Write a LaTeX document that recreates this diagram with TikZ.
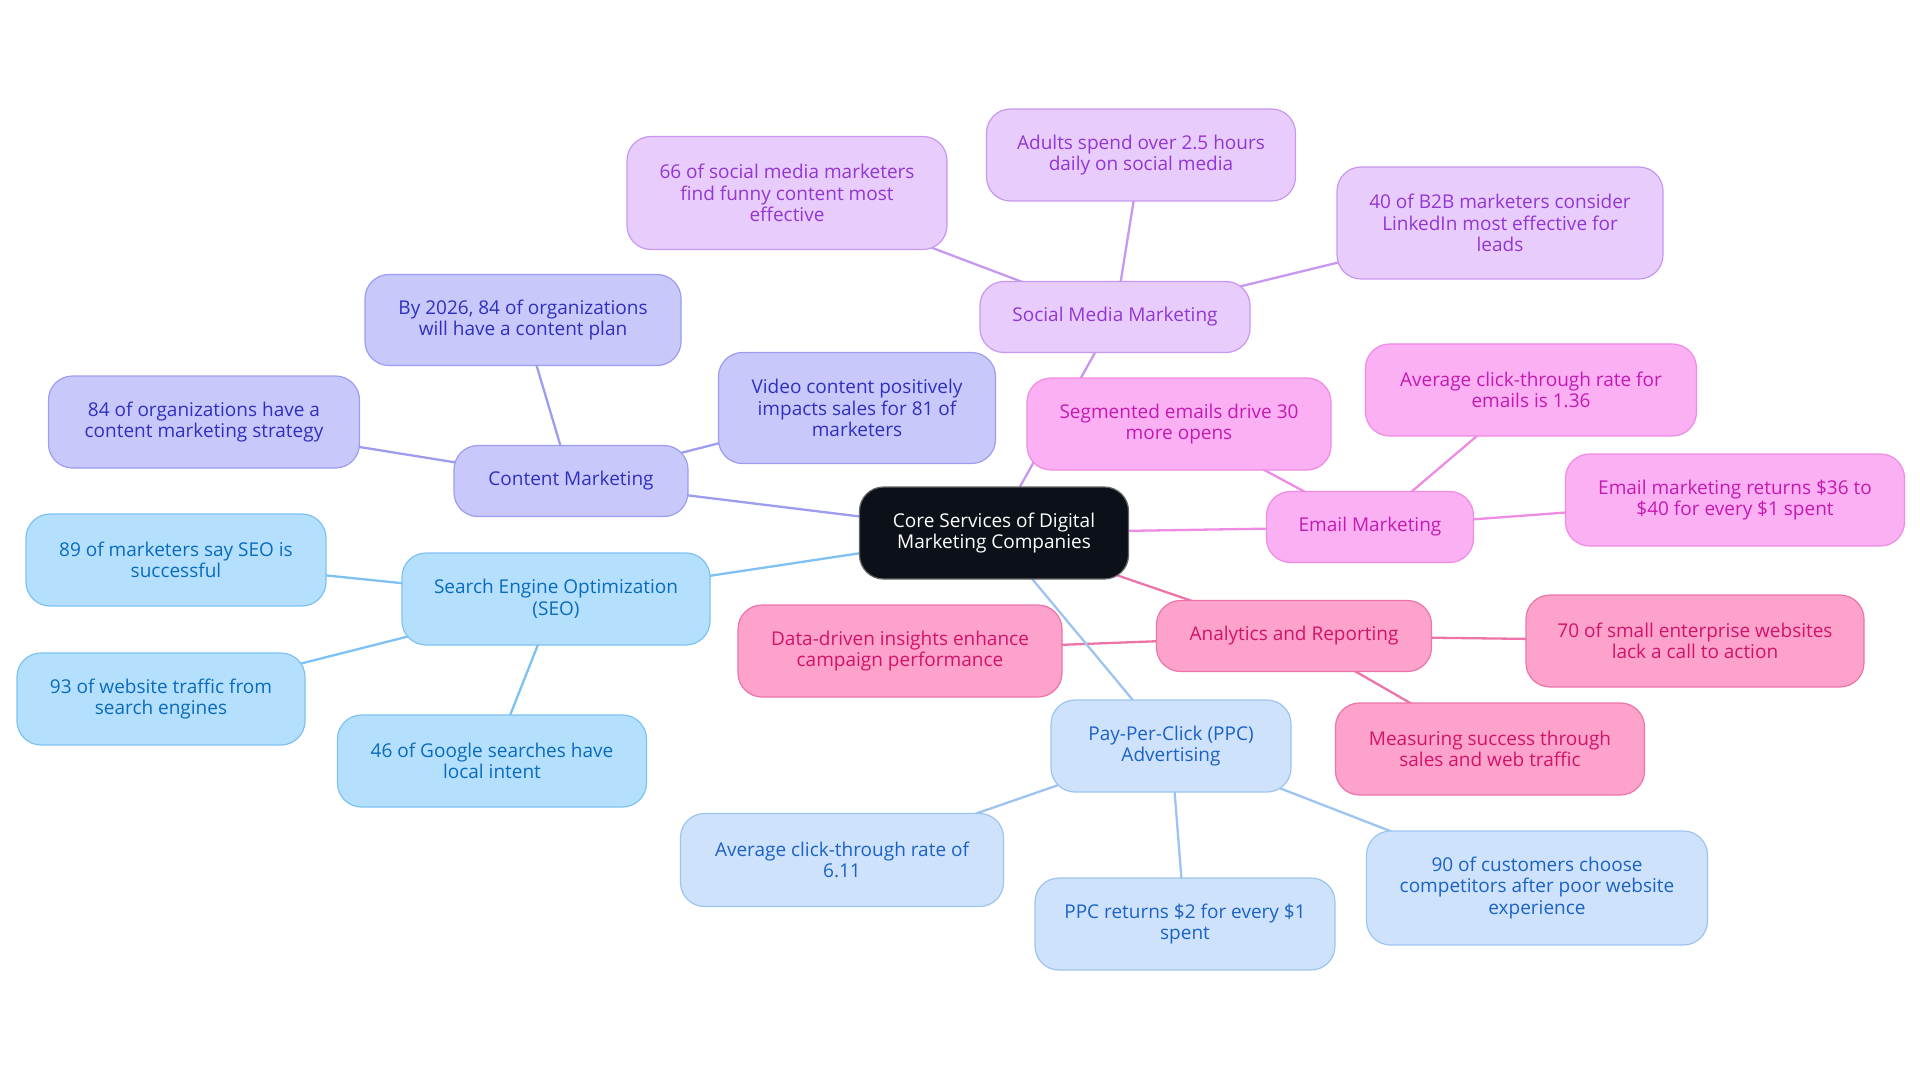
\documentclass[tikz,border=0pt]{standalone}
\usepackage{fontspec}
\setmainfont{Open Sans}
\usetikzlibrary{backgrounds}
\definecolor{hubfill}{HTML}{0C1119}
\definecolor{cmfill}{HTML}{C8C8FB}
\definecolor{cmline}{HTML}{9C9CF0}
\definecolor{cmtext}{HTML}{3030C0}
\definecolor{seofill}{HTML}{B4E0FD}
\definecolor{seoline}{HTML}{7DC2F2}
\definecolor{seotext}{HTML}{0A6BBE}
\definecolor{smfill}{HTML}{E8CCFC}
\definecolor{smline}{HTML}{C798F0}
\definecolor{smtext}{HTML}{9236D4}
\definecolor{emfill}{HTML}{FBB0F3}
\definecolor{emline}{HTML}{EF8BE3}
\definecolor{emtext}{HTML}{C41AB2}
\definecolor{arfill}{HTML}{FDA2CB}
\definecolor{arline}{HTML}{EC74A9}
\definecolor{artext}{HTML}{D2136A}
\definecolor{ppcfill}{HTML}{CEE3FB}
\definecolor{ppcline}{HTML}{9DC4F0}
\definecolor{ppctext}{HTML}{1C62C6}

\begin{document}
\begin{tikzpicture}[x=1pt, y=-1pt,
  box/.style={rectangle, rounded corners=24pt, line width=1.2pt, align=center, inner sep=0pt, font=\fontsize{19}{21.5}\selectfont},
  wh/.style 2 args={minimum width=#1pt, minimum height=#2pt},
  hub/.style={box, fill=hubfill, draw=black!60, text=white},
  cmnode/.style={box, fill=cmfill, draw=cmline, text=cmtext},
  seonode/.style={box, fill=seofill, draw=seoline, text=seotext},
  smnode/.style={box, fill=smfill, draw=smline, text=smtext},
  emnode/.style={box, fill=emfill, draw=emline, text=emtext},
  arnode/.style={box, fill=arfill, draw=arline, text=artext},
  ppcnode/.style={box, fill=ppcfill, draw=ppcline, text=ppctext},
  link/.style={line width=2.3pt}
]
  \useasboundingbox (0,0) rectangle (1920,1083);

  \node[hub, wh={269}{92}] (hub) at (994,533) {Core Services of Digital\\Marketing Companies};

  \node[cmnode, wh={234}{71}] (content) at (571,481) {Content Marketing};
  \node[cmnode, wh={316}{91}] (cmplan) at (523,320) {By 2026, 84 of organizations\\will have a content plan};
  \node[cmnode, wh={311}{92}] (cmstrategy) at (204,422) {84 of organizations have a\\content marketing strategy};
  \node[cmnode, wh={277}{111}] (cmvideo) at (857,408) {Video content positively\\impacts sales for 81 of\\marketers};

  \node[seonode, wh={308}{92}] (seo) at (556,599) {Search Engine Optimization\\(SEO)};
  \node[seonode, wh={300}{92}] (seosuccess) at (176,560) {89 of marketers say SEO is\\successful};
  \node[seonode, wh={288}{92}] (seotraffic) at (161,699) {93 of website traffic from\\search engines};
  \node[seonode, wh={309}{92}] (seolocal) at (492,761) {46 of Google searches have\\local intent};

  \node[smnode, wh={270}{71}] (social) at (1115,317) {Social Media Marketing};
  \node[smnode, wh={320}{113}] (smfunny) at (787,193) {66 of social media marketers\\find funny content most\\effective};
  \node[smnode, wh={309}{92}] (smdaily) at (1141,155) {Adults spend over 2.5 hours\\daily on social media};
  \node[smnode, wh={326}{112}] (smlinkedin) at (1500,223) {40 of B2B marketers consider\\LinkedIn most effective for\\leads};

  \node[emnode, wh={207}{71}] (email) at (1370,527) {Email Marketing};
  \node[emnode, wh={304}{92}] (emsegment) at (1179,424) {Segmented emails drive 30\\more opens};
  \node[emnode, wh={331}{92}] (emctr) at (1531,390) {Average click-through rate for\\emails is 1.36};
  \node[emnode, wh={339}{92}] (emreturn) at (1735,500) {Email marketing returns \$36 to\\\$40 for every \$1 spent};

  \node[arnode, wh={275}{71}] (analytics) at (1294,636) {Analytics and Reporting};
  \node[arnode, wh={324}{92}] (arinsight) at (900,651) {Data-driven insights enhance\\campaign performance};
  \node[arnode, wh={338}{92}] (arcta) at (1695,641) {70 of small enterprise websites\\lack a call to action};
  \node[arnode, wh={309}{92}] (armeasure) at (1490,749) {Measuring success through\\sales and web traffic};

  \node[ppcnode, wh={240}{92}] (ppc) at (1171,746) {Pay-Per-Click (PPC)\\Advertising};
  \node[ppcnode, wh={323}{93}] (ppcctr) at (842,860) {Average click-through rate of\\6.11};
  \node[ppcnode, wh={300}{92}] (ppcreturn) at (1185,924) {PPC returns \$2 for every \$1\\spent};
  \node[ppcnode, wh={341}{114}] (ppccustomer) at (1537,888) {90 of customers choose\\competitors after poor website\\experience};

  \begin{scope}[on background layer]
    \foreach \a/\b/\c in {hub/content/cmline, content/cmplan/cmline, content/cmstrategy/cmline, content/cmvideo/cmline,
                          hub/seo/seoline, seo/seosuccess/seoline, seo/seotraffic/seoline, seo/seolocal/seoline,
                          hub/social/smline, social/smfunny/smline, social/smdaily/smline, social/smlinkedin/smline,
                          hub/email/emline, email/emsegment/emline, email/emctr/emline, email/emreturn/emline,
                          hub/analytics/arline, analytics/arinsight/arline, analytics/arcta/arline, analytics/armeasure/arline,
                          hub/ppc/ppcline, ppc/ppcctr/ppcline, ppc/ppcreturn/ppcline, ppc/ppccustomer/ppcline} {
      \draw[link, draw=\c] (\a.center) -- (\b.center);
    }
  \end{scope}
\end{tikzpicture}
\end{document}
